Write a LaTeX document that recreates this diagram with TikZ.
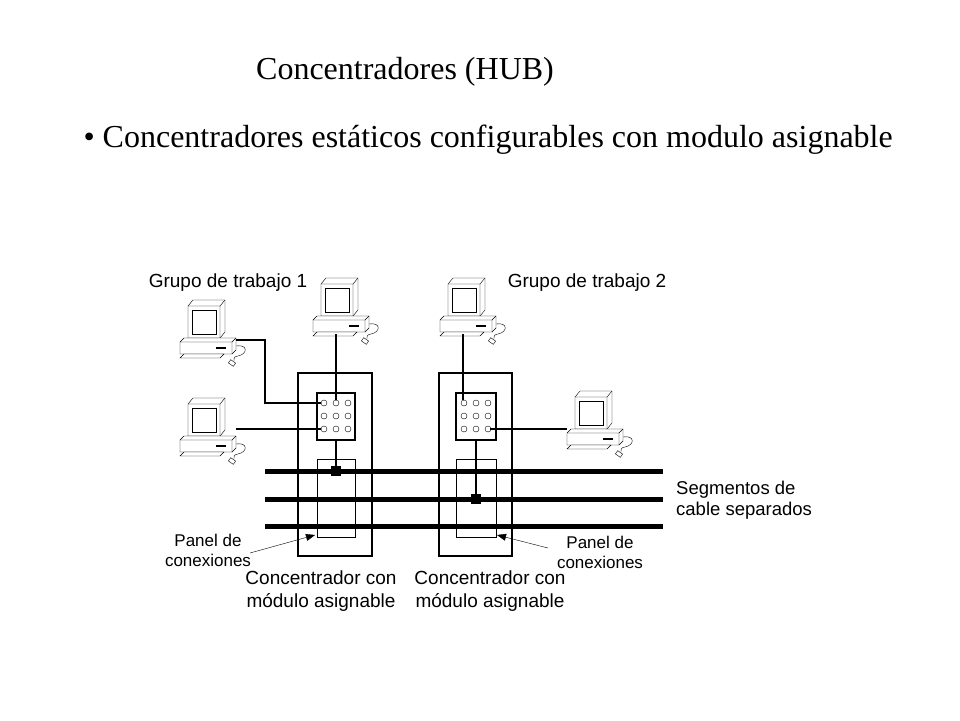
\documentclass[tikz,border=0pt]{standalone}
\usepackage{fontspec}
\setmainfont{Liberation Serif}
\setsansfont{Liberation Sans}
\usetikzlibrary{arrows.meta}

\tikzset{
  lbl/.style={font=\sffamily\fontsize{18.5}{21}\selectfont, inner sep=0pt},
  bus/.style={line width=5pt},
  wire/.style={line width=1.3pt},
  note/.style={-{Triangle[length=9pt,width=7pt]}, thin},
}
% one computer, top left corner at (#1,#2)
\newcommand{\pc}[2]{%
  \begin{scope}[shift={(#1,#2)}]
    \draw[fill=white] (8,6) -- (13,0) -- (45,0) -- (45,32) -- (40,38) -- (8,38) -- cycle;
    \draw (8,6) -- (40,6) -- (45,0) (40,6) -- (40,38);
    \draw (12,10) rectangle (36,34);
    \draw[fill=white] (0,42) -- (4,38) -- (56,38) -- (56,50) -- (52,54) -- (0,54) -- cycle;
    \draw (0,42) -- (52,42) -- (56,38) (52,42) -- (52,54);
    \draw[line width=1.5pt] (36,48) -- (46,48);
    \draw[fill=white] (0,58) -- (4,54) -- (44,54) -- (40,58) -- cycle;
    \draw (56,46) .. controls (68,44) and (68,54) .. (58,56) .. controls (54,57) .. (54,61);
    \draw[fill=white, rotate around={-35:(52,63)}] (49,61) rectangle (55,65);
  \end{scope}}

\begin{document}
\begin{tikzpicture}[x=1pt, y=-1pt]
  \useasboundingbox (0,0) rectangle (960,720);
  \node (title) at (405,72) {\fontsize{32}{36}\selectfont Concentradores (HUB)};
  \node[anchor=west] (bullet) at (80,140) {\fontsize{32}{36}\selectfont \textbullet\ Concentradores estáticos configurables con modulo asignable};

  % bus segments
  \foreach \y/\n in {471/a, 499/b, 526/c} {
    \coordinate (s\n1) at (265,\y);
    \coordinate (s\n2) at (663,\y);
    \draw[bus] (s\n1) -- (s\n2);
  }

  % hubs
  \draw[wire] (298,373) rectangle (372,556);
  \draw (317,459) rectangle (355,537);
  \draw[wire, fill=white] (317,393) rectangle (355,440);
  \draw[wire] (439,373) rectangle (512,556);
  \draw (456,459) rectangle (496,537);
  \draw[wire, fill=white] (456,393) rectangle (496,440);
  \foreach \x in {0,1,2} \foreach \y in {0,1,2} {
    \draw (324+\x*12,403+\y*13) circle (3);
    \draw (464+\x*12,403+\y*13) circle (3);
  }
  \draw[wire] (336,440) -- (336,471);
  \fill (331,466) rectangle (341,476);
  \draw[wire] (476,440) -- (476,499);
  \fill (471,494) rectangle (481,504);

  % computers
  \pc{180}{300}
  \pc{180}{398}
  \pc{313}{278}
  \pc{440}{278}
  \pc{567}{391}
  \draw[wire] (236,340) -- (265,340) -- (265,403) -- (321,403);
  \draw[wire] (236,429) -- (321,429);
  \draw[wire] (336,334) -- (336,400);
  \draw[wire] (463,334) -- (463,400);
  \draw[wire] (490,429) -- (567,429);

  % labels
  \node[lbl, font=\sffamily\fontsize{19}{21}\selectfont] (grupoA) at (228,283) {Grupo de trabajo 1};
  \node[lbl, font=\sffamily\fontsize{19}{21}\selectfont] (grupoB) at (587,283) {Grupo de trabajo 2};
  \node[lbl, anchor=west, align=left] (seg) at (676,500) {Segmentos de\\cable separados};
  \node[lbl, align=center, font=\sffamily\fontsize{17}{20}\selectfont] (panelA) at (208,550) {Panel de\\conexiones};
  \node[lbl, align=center, font=\sffamily\fontsize{17}{20}\selectfont] (panelB) at (600,552) {Panel de\\conexiones};
  \node[lbl, align=center, font=\sffamily\fontsize{19}{23}\selectfont] (hubA) at (321,591) {Concentrador con\\módulo asignable};
  \node[lbl, align=center, font=\sffamily\fontsize{19}{23}\selectfont] (hubB) at (490,591) {Concentrador con\\módulo asignable};
  \draw[note] (250,553) -- (315,535);
  \draw[note] (548,548) -- (497,535);
\end{tikzpicture}
\end{document}
